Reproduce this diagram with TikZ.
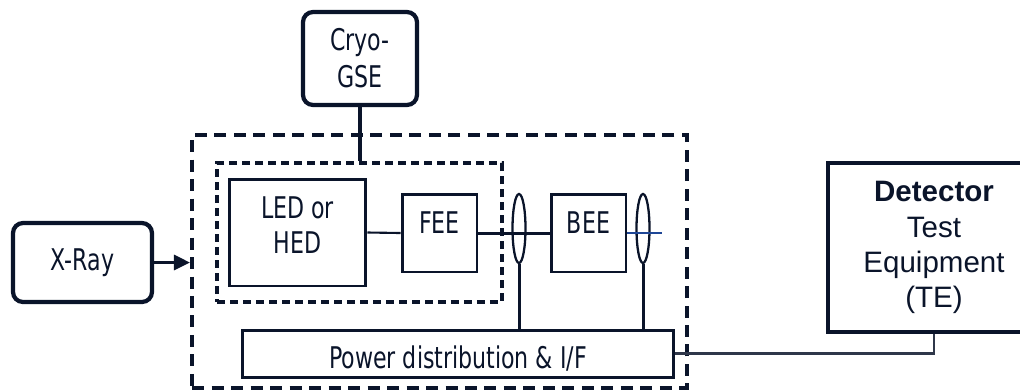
\documentclass[tikz,border=0pt]{standalone}
\usepackage{fontspec}
\setmainfont{DejaVu Sans}[FakeStretch=0.74]
\newfontfamily\tefont{Liberation Sans}
\usetikzlibrary{positioning,shapes.geometric,arrows.meta}
\definecolor{ink}{RGB}{10,20,42}
\definecolor{harness}{RGB}{30,70,150}
\tikzset{
  blk/.style={draw=ink, line width=1.7pt, rectangle, inner sep=0pt},
  gse/.style={draw=ink, line width=2.4pt, rounded corners=0.2cm, inner sep=0pt,
    align=center, text=ink, font=\fontsize{17}{21}\selectfont},
  wire/.style={draw=ink, line width=1.7pt},
  clamp/.style={ellipse, draw=ink, line width=1.3pt, minimum width=0.26cm,
    minimum height=1.38cm, inner sep=0pt},
  every label/.style={font=\fontsize{17}{20}\selectfont, align=center, text=ink, inner sep=0pt},
}

\begin{document}
\begin{tikzpicture}[x=0.02cm,y=-0.02cm]
  \useasboundingbox (0,0) rectangle (1020,390);
  % Test chamber and focal plane (dashed)
  \node[draw=ink, line width=2.4pt, dash pattern=on 0.24cm off 0.15cm,
    minimum width=9.9cm, minimum height=5.06cm] (chamber) at (439.5,261.5) {};
  \node[draw=ink, line width=1.9pt, dash pattern=on 0.16cm off 0.1cm,
    minimum width=5.7cm, minimum height=2.78cm] (fpa) at (359.5,232.5) {};
  % Electronics chain
  \node[blk, minimum width=2.74cm, minimum height=2.14cm,
    label={[yshift=0.15cm]center:{LED or\\HED}}] (led) at (297.5,232.5) {};
  \node[blk, minimum width=1.5cm, minimum height=1.56cm,
    label={[yshift=0.2cm]center:FEE}] (fee) at (439.5,233) {};
  \node[blk, minimum width=1.5cm, minimum height=1.56cm,
    label={[yshift=0.2cm]center:BEE}] (bee) at (588.5,233) {};
  \node[clamp] (e1) at (519,228.5) {};
  \node[clamp] (e2) at (643,228.5) {};
  \node[blk, minimum width=8.64cm, minimum height=0.94cm,
    label={[yshift=-0.1cm]center:{Power distribution \& I/F}}] (pwr) at (458,353.5) {};
  \coordinate (tail) at (662,233);
  % Ground support and test equipment
  \node[gse, minimum width=2.28cm, minimum height=1.86cm] (cryo) at (360,58.5) {Cryo-\\GSE};
  \node[gse, minimum width=2.78cm, minimum height=1.58cm] (xray) at (82.5,262.5)
    {\raisebox{0.1cm}{X-Ray}};
  \node[draw=ink, line width=2.4pt, inner sep=0pt, align=center, text=ink,
    font=\tefont\fontsize{16.8}{20}\selectfont,
    minimum width=4.24cm, minimum height=3.38cm] (te) at (934,247.5)
    {{\bfseries Detector}\\Test\\Equipment\\(TE)};
  % Connections
  \draw[wire, line width=2pt] (cryo) -- (cryo |- fpa.north);
  \draw[wire, line width=1.2pt] (led.east) -- (fee.west);
  \draw[wire] (fee.east) -- (bee.west);
  \draw[draw=harness, line width=1.5pt] (bee.east) -- (tail);
  \draw[wire] (e1.south) -- (e1.south |- pwr.north);
  \draw[wire] (e2.south) -- (e2.south |- pwr.north);
  \draw[wire, draw=ink!85, line width=1.4pt] (pwr.east) -| (te.south);
  \draw[wire, -{Triangle[length=0.32cm,width=0.3cm]}] (xray) -- (xray -| chamber.west);
\end{tikzpicture}
\end{document}
